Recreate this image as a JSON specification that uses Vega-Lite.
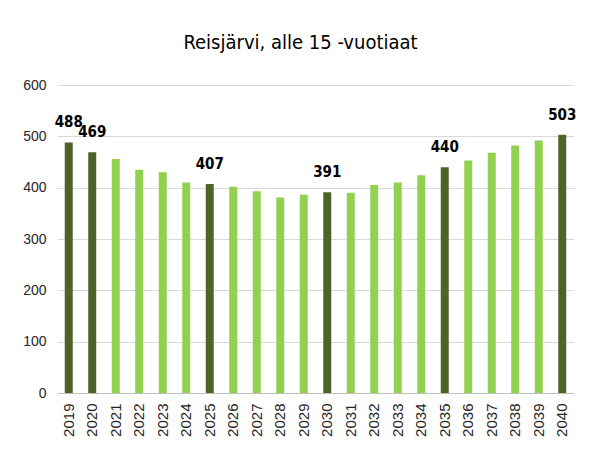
{
  "$schema": "https://vega.github.io/schema/vega-lite/v6.json",
  "autosize": "none",
  "width": 517,
  "height": 308,
  "padding": {"left": 57, "top": 85, "right": 17, "bottom": 57},
  "background": "white",
  "title": {
    "text": "Reisjärvi, alle 15 -vuotiaat",
    "font": "DejaVu Sans Condensed, Roboto",
    "fontSize": 20,
    "fontWeight": "normal",
    "color": "#000000",
    "anchor": "middle",
    "dx": -15,
    "offset": 25
  },
  "data": {
    "values": [
      {"year": "2019", "value": 488, "type": "label"},
      {"year": "2020", "value": 469, "type": "label"},
      {"year": "2021", "value": 456, "type": "other"},
      {"year": "2022", "value": 435, "type": "other"},
      {"year": "2023", "value": 430, "type": "other"},
      {"year": "2024", "value": 410, "type": "other"},
      {"year": "2025", "value": 407, "type": "label"},
      {"year": "2026", "value": 402, "type": "other"},
      {"year": "2027", "value": 393, "type": "other"},
      {"year": "2028", "value": 381, "type": "other"},
      {"year": "2029", "value": 386, "type": "other"},
      {"year": "2030", "value": 391, "type": "label"},
      {"year": "2031", "value": 390, "type": "other"},
      {"year": "2032", "value": 405, "type": "other"},
      {"year": "2033", "value": 410, "type": "other"},
      {"year": "2034", "value": 424, "type": "other"},
      {"year": "2035", "value": 440, "type": "label"},
      {"year": "2036", "value": 453, "type": "other"},
      {"year": "2037", "value": 468, "type": "other"},
      {"year": "2038", "value": 482, "type": "other"},
      {"year": "2039", "value": 492, "type": "other"},
      {"year": "2040", "value": 503, "type": "label"}
    ]
  },
  "encoding": {
    "x": {
      "field": "year",
      "type": "ordinal",
      "scale": {"paddingInner": 0.66, "paddingOuter": 0.33},
      "axis": {
        "title": null,
        "labelAngle": -90,
        "labelFont": "Liberation Sans",
        "labelFontSize": 15,
        "labelColor": "#262626",
        "labelPadding": 10,
        "ticks": false,
        "domainColor": "#bfbfbf",
        "domainWidth": 1
      }
    },
    "y": {
      "field": "value",
      "type": "quantitative",
      "scale": {"domain": [0, 600], "nice": false},
      "axis": {
        "title": null,
        "values": [0, 100, 200, 300, 400, 500, 600],
        "labelFont": "Liberation Sans",
        "labelFontSize": 14,
        "labelColor": "#262626",
        "labelPadding": 11,
        "ticks": false,
        "domain": false,
        "gridColor": "#d9d9d9",
        "gridWidth": 1
      }
    }
  },
  "layer": [
    {
      "mark": {"type": "bar"},
      "encoding": {
        "color": {
          "field": "type",
          "type": "nominal",
          "scale": {"domain": ["label", "other"], "range": ["#4f6228", "#92d050"]},
          "legend": null
        }
      }
    },
    {
      "transform": [{"filter": "datum.type === 'label'"}],
      "mark": {
        "type": "text",
        "baseline": "bottom",
        "dy": -12,
        "font": "DejaVu Sans Condensed, Roboto",
        "fontSize": 15,
        "fontWeight": "bold",
        "color": "#000000"
      },
      "encoding": {
        "text": {"field": "value", "type": "quantitative"}
      }
    }
  ],
  "config": {
    "view": {"stroke": null}
  }
}
